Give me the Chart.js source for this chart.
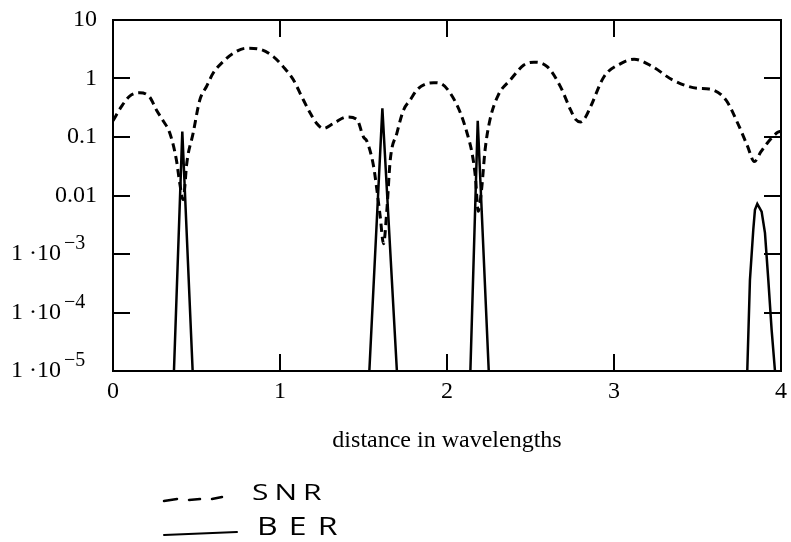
<!DOCTYPE html>
<html>
<head>
<meta charset="utf-8">
<script src="https://cdn.jsdelivr.net/npm/chart.js@4.4.1/dist/chart.umd.min.js"></script>
<style>
  html, body { margin: 0; padding: 0; background: #fff; }
  #wrap { width: 791px; height: 542px; }
</style>
</head>
<body>
<div id="wrap"><canvas id="c" width="791" height="542"></canvas></div>
<script>
// ---- data ----
const xTickValues = [0, 1, 2, 3, 4];
const xTickLabels = ['0', '1', '2', '3', '4'];
const yTickValues = [10, 1, 0.1, 0.01, 1e-3, 1e-4, 1e-5];
const yTickLabels = ['10', '1', '0.1', '0.01', '1 \u00B710', '1 \u00B710', '1 \u00B710'];
const yTickExponents = ['', '', '', '', '\u22123', '\u22124', '\u22125'];

// SNR (dashed)
const snrX = [0.00, 0.05, 0.10, 0.16, 0.22, 0.26, 0.30, 0.34, 0.38, 0.40, 0.42, 0.43, 0.44, 0.48, 0.52,
              0.56, 0.60, 0.66, 0.72, 0.80, 0.88, 0.96, 1.02, 1.08, 1.13, 1.18, 1.22, 1.26, 1.32, 1.40,
              1.46, 1.50, 1.52, 1.56, 1.58, 1.60, 1.62, 1.64, 1.66, 1.70, 1.74, 1.78, 1.82, 1.87, 1.92,
              1.97, 2.02, 2.08, 2.12, 2.15, 2.17, 2.187, 2.207, 2.228, 2.257, 2.307, 2.38, 2.46, 2.52,
              2.60, 2.68, 2.74, 2.77, 2.80, 2.83, 2.86, 2.94, 3.04, 3.12, 3.23, 3.35, 3.50, 3.57, 3.67,
              3.75, 3.80, 3.84, 3.88, 3.92, 3.98, 4.00];
const snrY = [0.19, 0.33, 0.50, 0.57, 0.48, 0.29, 0.19, 0.117, 0.04, 0.016, 0.0085, 0.014, 0.032, 0.117, 0.43,
              0.73, 1.24, 1.95, 2.7, 3.3, 3.16, 2.37, 1.58, 0.95, 0.49, 0.26, 0.17, 0.14, 0.17, 0.22,
              0.20, 0.10, 0.085, 0.032, 0.0126, 0.0044, 0.0015, 0.0057, 0.04, 0.117, 0.29, 0.43, 0.64, 0.80, 0.85,
              0.80, 0.56, 0.26, 0.117, 0.053, 0.021, 0.0054, 0.0126, 0.06, 0.195, 0.52, 0.95, 1.7, 1.9,
              1.6, 0.72, 0.29, 0.20, 0.18, 0.22, 0.33, 1.07, 1.8, 2.14, 1.6, 0.95, 0.68, 0.66, 0.43,
              0.15, 0.069, 0.038, 0.056, 0.08, 0.12, 0.125];

// BER (solid); null separates the visible spikes
const berX = [0.365, 0.415, 0.477, 1.0,
              1.535, 1.613, 1.700, 2.0,
              2.140, 2.184, 2.250, 3.0,
              3.798, 3.814, 3.834, 3.844, 3.858, 3.884, 3.904, 3.924, 3.944, 3.964];
const berY = [1e-5, 0.124, 1e-5, null,
              1e-5, 0.31, 1e-5, null,
              1e-5, 0.19, 1e-5, null,
              1e-5, 3.6e-4, 2.6e-3, 5.7e-3, 7.2e-3, 5.3e-3, 2.3e-3, 3.6e-4, 5e-5, 1e-5];

const xTitle = 'distance in wavelengths';
const legendItems = ['SNR', 'BER'];

// ---- chart ----
const toPts = (xs, ys) => xs.map((x, i) => ({ x: x, y: ys[i] }));
const serif = "'Liberation Serif', 'Times New Roman', serif";

const inwardGrid = {
  display: true, drawOnChartArea: false, drawTicks: true,
  tickLength: -17, color: '#000', lineWidth: 2
};
const frameBorder = { display: true, color: '#000', width: 2 };
const decadeTicks = (scale) => { scale.ticks = yTickValues.map(v => ({ value: v })); };
const unitTicks = (scale) => { scale.ticks = xTickValues.map(v => ({ value: v })); };
const noOverflow = (s) => { s.paddingTop = 0; s.paddingBottom = 0; s.paddingLeft = 0; s.paddingRight = 0; };

// exponents of the 1·10^n tick labels, placed next to the library's tick labels
const exponentPlugin = {
  id: 'tickExponents',
  afterDraw(chart) {
    const ctx = chart.ctx;
    const y = chart.scales.y;
    ctx.save();
    ctx.fillStyle = '#000';
    ctx.font = "20px " + serif;
    ctx.textAlign = 'left';
    ctx.textBaseline = 'middle';
    yTickValues.forEach((v, i) => {
      if (!yTickExponents[i]) return;
      const py = y.getPixelForValue(v);
      ctx.fillText(yTickExponents[i], 64, py - 10);
    });
    ctx.restore();
  }
};

const legendPlugin = {
  id: 'handLegend',
  afterDraw(chart) {
    const ctx = chart.ctx;
    ctx.save();
    ctx.strokeStyle = '#000';
    ctx.fillStyle = '#000';
    ctx.lineCap = 'round';
    // dashed sample
    ctx.lineWidth = 2.5;
    ctx.beginPath();
    ctx.moveTo(164, 501); ctx.lineTo(177, 499);
    ctx.moveTo(189, 500); ctx.lineTo(200, 499);
    ctx.moveTo(212, 499); ctx.lineTo(222, 497);
    ctx.stroke();
    // solid sample
    ctx.lineWidth = 2;
    ctx.beginPath();
    ctx.moveTo(164, 535); ctx.lineTo(237, 532);
    ctx.stroke();
    ctx.font = "400 20px 'Open Sans', 'DejaVu Sans', sans-serif";
    ctx.textBaseline = 'alphabetic';
    ctx.textAlign = 'left';
    ctx.letterSpacing = '4px';
    ctx.save(); ctx.translate(252, 500); ctx.scale(1.5, 1.05); ctx.fillText(legendItems[0], 0, 0); ctx.restore();
    ctx.letterSpacing = '7px';
    ctx.save(); ctx.translate(257, 535); ctx.scale(1.6, 1.25); ctx.fillText(legendItems[1], 0, 0); ctx.restore();
    ctx.restore();
  }
};

new Chart(document.getElementById('c'), {
  type: 'line',
  data: {
    datasets: [
      {
        label: legendItems[0],
        data: toPts(snrX, snrY),
        borderColor: '#000',
        borderWidth: 3,
        borderDash: [8, 5],
        pointRadius: 0,
        cubicInterpolationMode: 'monotone',
        fill: false
      },
      {
        label: legendItems[1],
        data: toPts(berX, berY),
        borderColor: '#000',
        borderWidth: 2.5,
        pointRadius: 0,
        tension: 0,
        spanGaps: false,
        fill: false
      }
    ]
  },
  options: {
    responsive: false,
    animation: false,
    devicePixelRatio: 1,
    layout: { padding: { top: 20, right: 10, left: 0, bottom: 71 } },
    plugins: { legend: { display: false }, tooltip: { enabled: false } },
    scales: {
      x: {
        type: 'linear', position: 'bottom', min: 0, max: 4,
        grid: inwardGrid, border: frameBorder,
        afterBuildTicks: unitTicks,
        afterFit: (s) => { s.height = 100; noOverflow(s); },
        ticks: {
          color: '#000', padding: 23, maxRotation: 0,
          font: { family: serif, size: 24 },
          callback: (v, i) => xTickLabels[i]
        },
        title: {
          display: true, text: xTitle, color: '#000',
          font: { family: serif, size: 24 },
          padding: { top: 0, bottom: 16 }
        }
      },
      x2: {
        type: 'linear', position: 'top', min: 0, max: 4,
        grid: inwardGrid, border: frameBorder,
        afterBuildTicks: unitTicks,
        afterFit: (s) => { s.height = 0; noOverflow(s); },
        ticks: { display: false }
      },
      y: {
        type: 'logarithmic', position: 'left', min: 1e-5, max: 10,
        grid: inwardGrid, border: frameBorder,
        afterBuildTicks: decadeTicks,
        afterFit: (s) => { s.width = 113; noOverflow(s); },
        ticks: {
          color: '#000', padding: 33,
          font: { family: serif, size: 24 },
          callback: (v, i) => yTickExponents[i] ? yTickLabels[i] + '\u2002\u2002\u2002' : yTickLabels[i]
        }
      },
      y2: {
        type: 'logarithmic', position: 'right', min: 1e-5, max: 10,
        grid: inwardGrid, border: frameBorder,
        afterBuildTicks: decadeTicks,
        afterFit: (s) => { s.width = 0; noOverflow(s); },
        ticks: { display: false }
      }
    }
  },
  plugins: [exponentPlugin, legendPlugin]
});
</script>
</body>
</html>
